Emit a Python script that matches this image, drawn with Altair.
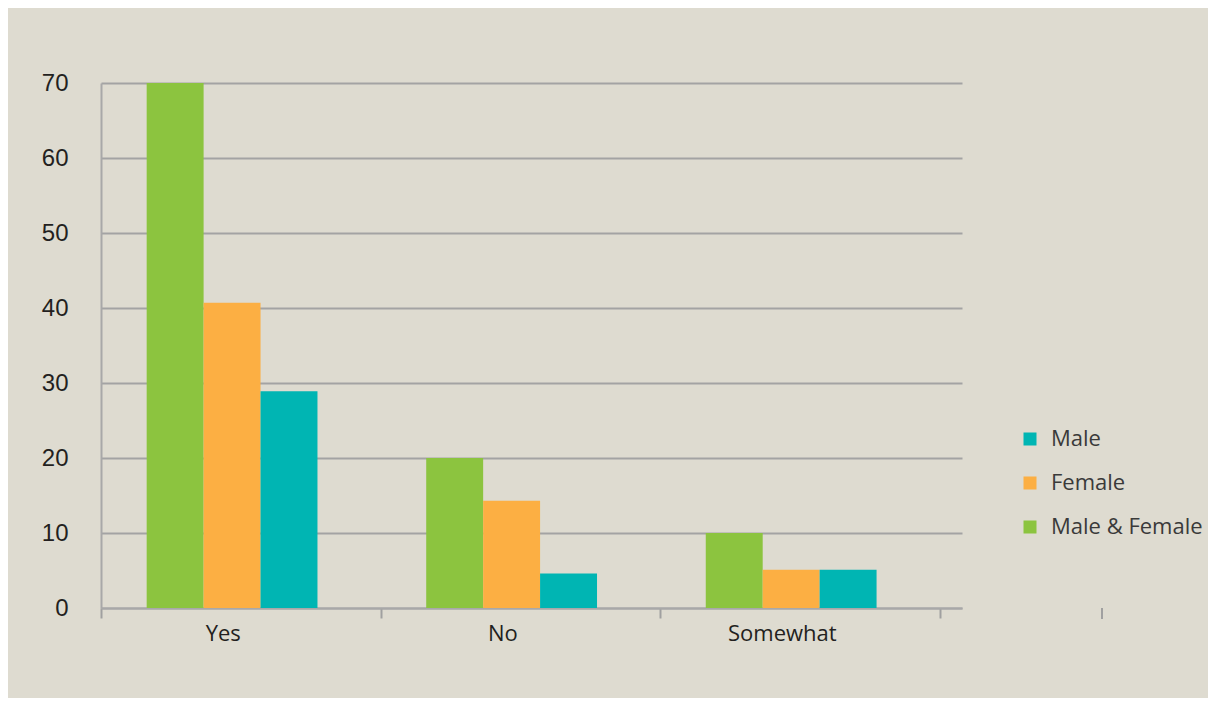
import altair as alt
import pandas as pd

categories = ["Yes", "No", "Somewhat"]
groups = ["Male & Female", "Female", "Male"]
male_female = [70, 20, 10]
female = [40.7, 14.3, 5.1]
male = [28.9, 4.6, 5.1]

rows = []
for i, c in enumerate(categories):
    rows.append({"answer": c, "group": "Male & Female", "value": male_female[i]})
    rows.append({"answer": c, "group": "Female", "value": female[i]})
    rows.append({"answer": c, "group": "Male", "value": male[i]})
df = pd.DataFrame(rows)

legend_order = ["Male", "Female", "Male & Female"]
colors = ["#00b5b3", "#fcaf43", "#8cc43f"]

bars = alt.Chart(df).mark_bar().encode(
    x=alt.X("answer:N", sort=categories, title=None,
            scale=alt.Scale(paddingInner=0, paddingOuter=0.04, align=0),
            axis=alt.Axis(labelAngle=0, tickBand="extent", tickSize=10, tickColor="#a0a0a0",
                          tickWidth=2, domainColor="#a8a8a8", domainWidth=2,
                          labelFont="Open Sans", labelFontSize=22, labelColor="#231f20",
                          labelPadding=5, labelOffset=-18, grid=False)),
    xOffset=alt.XOffset("group:N", sort=groups,
                        scale=alt.Scale(paddingInner=0, paddingOuter=0.955, align=0.42)),
    y=alt.Y("value:Q", title=None,
            scale=alt.Scale(domain=[0, 70]),
            axis=alt.Axis(values=[0, 10, 20, 30, 40, 50, 60, 70], ticks=False,
                          domainColor="#a8a8a8", domainWidth=2,
                          gridColor="#a3a3a3", gridWidth=2,
                          labelFont="Liberation Sans", labelFontSize=24, labelColor="#231f20",
                          labelPadding=33)),
    color=alt.Color("group:N", scale=alt.Scale(domain=legend_order, range=colors),
                    legend=alt.Legend(title=None, orient="none", legendX=918, legendY=345,
                                      symbolType="square", symbolSize=169,
                                      symbolStrokeWidth=0, labelFont="Open Sans",
                                      labelFontSize=22, labelColor="#3a3a3a",
                                      labelOffset=10, rowPadding=22)),
)

extra_tick = alt.Chart(pd.DataFrame({"a": [0]})).mark_rule(
    color="#a0a0a0", strokeWidth=2, clip=False
).encode(x=alt.value(1001), y=alt.value(525), y2=alt.value(536))

chart = alt.layer(bars, extra_tick).properties(
    width=861, height=525,
    autosize=alt.AutoSizeParams(type="none"),
    padding={"left": 93, "top": 75, "right": 246, "bottom": 90},
    background="#dedbd0",
).configure_view(stroke=None)

chart.save("out.html", embed_options={"renderer": "svg", "actions": False})
